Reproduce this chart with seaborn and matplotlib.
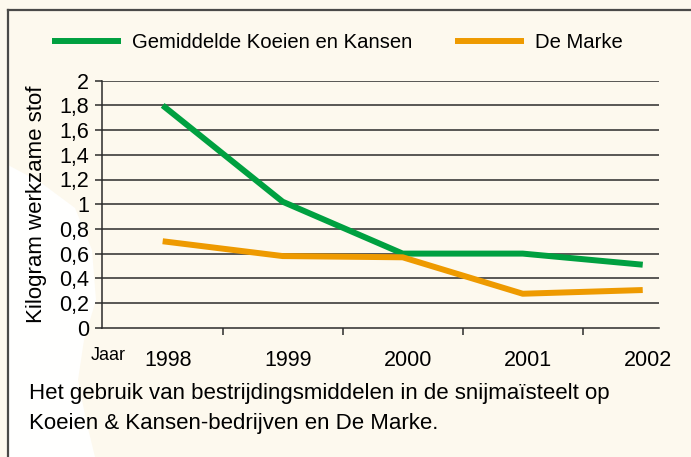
import numpy as np
import pandas as pd
import matplotlib
matplotlib.use("Agg")
import matplotlib.pyplot as plt
from matplotlib.lines import Line2D
from matplotlib.patches import Polygon
from matplotlib.transforms import ScaledTranslation
import seaborn as sns

# ---- data ----
years = ["1998", "1999", "2000", "2001", "2002"]
gemiddeld_kk = [1.80, 1.02, 0.60, 0.60, 0.51]
de_marke = [0.70, 0.58, 0.57, 0.275, 0.305]
series_names = ["Gemiddelde Koeien en Kansen", "De Marke"]
y_ticks = [0, 0.2, 0.4, 0.6, 0.8, 1.0, 1.2, 1.4, 1.6, 1.8, 2.0]
y_tick_labels = ["0", "0,2", "0,4", "0,6", "0,8", "1", "1,2", "1,4", "1,6", "1,8", "2"]

df = pd.DataFrame({
    "pos": list(range(len(years))) * 2,
    "jaar": years * 2,
    "waarde": gemiddeld_kk + de_marke,
    "reeks": [series_names[0]] * len(years) + [series_names[1]] * len(years),
})

plt.rcParams["font.family"] = ["Liberation Sans", "DejaVu Sans"]

W, H = 691, 457
fig = plt.figure(figsize=(W / 100, H / 100), dpi=100)
bg = "#FDF9EE"
fig.patch.set_facecolor(bg)

# subtle lighter blob on left of the frame
blob = [(8, 165), (40, 182), (75, 208), (92, 250), (96, 300), (84, 340),
        (78, 380), (86, 420), (95, 457), (8, 457)]
fig.patches.append(Polygon([(x / W, 1 - y / H) for x, y in blob], closed=True,
                           transform=fig.transFigure, facecolor="#FFFFFE",
                           edgecolor="none", zorder=-5))

# frame
frame_col = "#4a4a48"
fig.add_artist(Line2D([8 / W, 1.0], [1 - 10 / H, 1 - 10 / H], color=frame_col, lw=1.6))
fig.add_artist(Line2D([8 / W, 8 / W], [1 - 10 / H, 0], color=frame_col, lw=1.6))

left, right, top, bottom = 101.7, 658.7, 80.7, 327.7
ax = fig.add_axes([left / W, 1 - bottom / H, (right - left) / W, (bottom - top) / H])
ax.set_zorder(2)
ax.set_facecolor("none")

palette = {series_names[0]: "#00A040", series_names[1]: "#EE9A00"}
sns.lineplot(data=df, x="pos", y="waarde", hue="reeks", palette=palette,
             linewidth=4.3, ax=ax, legend=False, sort=False)
for ln in ax.lines:
    ln.set_solid_capstyle("butt")

ax.set_xlim(-0.508, 4.133)
ax.set_ylim(0, 2)
ax.set_yticks(y_ticks)
ax.set_yticklabels(y_tick_labels)
for yv in y_ticks[1:]:
    ax.axhline(yv, color="#2b2b2b", lw=1.1, zorder=0.5)

ax.set_xticks(range(len(years)))
ax.set_xticklabels(years)
ax.set_xticks([0.5, 1.5, 2.5, 3.5], minor=True)
ax.tick_params(axis="x", which="major", length=0, pad=16, labelsize=15.5)
ax.tick_params(axis="x", which="minor", length=5, width=1.1, color="#2b2b2b")
ax.tick_params(axis="y", length=5, width=1.1, color="#2b2b2b", pad=4, labelsize=15.5)
off = ScaledTranslation(5 / 100, 0, fig.dpi_scale_trans)
for lbl in ax.get_xticklabels():
    lbl.set_transform(lbl.get_transform() + off)

for s in ["top", "right"]:
    ax.spines[s].set_visible(False)
for s in ["left", "bottom"]:
    ax.spines[s].set_color("#2b2b2b")
    ax.spines[s].set_linewidth(1.1)

ax.set_xlabel("")
ax.set_ylabel("Kilogram werkzame stof", fontsize=16)
ax.yaxis.set_label_coords((47 - left) / (right - left), 0.5)

fig.text(108 / W, 1 - 355 / H, "Jaar", fontsize=13, ha="center", va="center")

# legend
handles = [Line2D([], [], color=palette[n], lw=4.3, solid_capstyle="butt") for n in series_names]
fig.legend(handles, series_names, loc="center left", bbox_to_anchor=(52 / W, 1 - 43 / H),
           ncol=2, frameon=False, fontsize=14.6, handlelength=3.4, handletextpad=0.55,
           columnspacing=2.1, borderpad=0, borderaxespad=0)

fig.text(29 / W, 1 - 393 / H, "Het gebruik van bestrijdingsmiddelen in de snijmaïsteelt op",
         fontsize=16, ha="left", va="center")
fig.text(29 / W, 1 - 423 / H, "Koeien & Kansen-bedrijven en De Marke.",
         fontsize=16, ha="left", va="center")

fig.savefig("out.png", dpi=100, facecolor=fig.get_facecolor())
